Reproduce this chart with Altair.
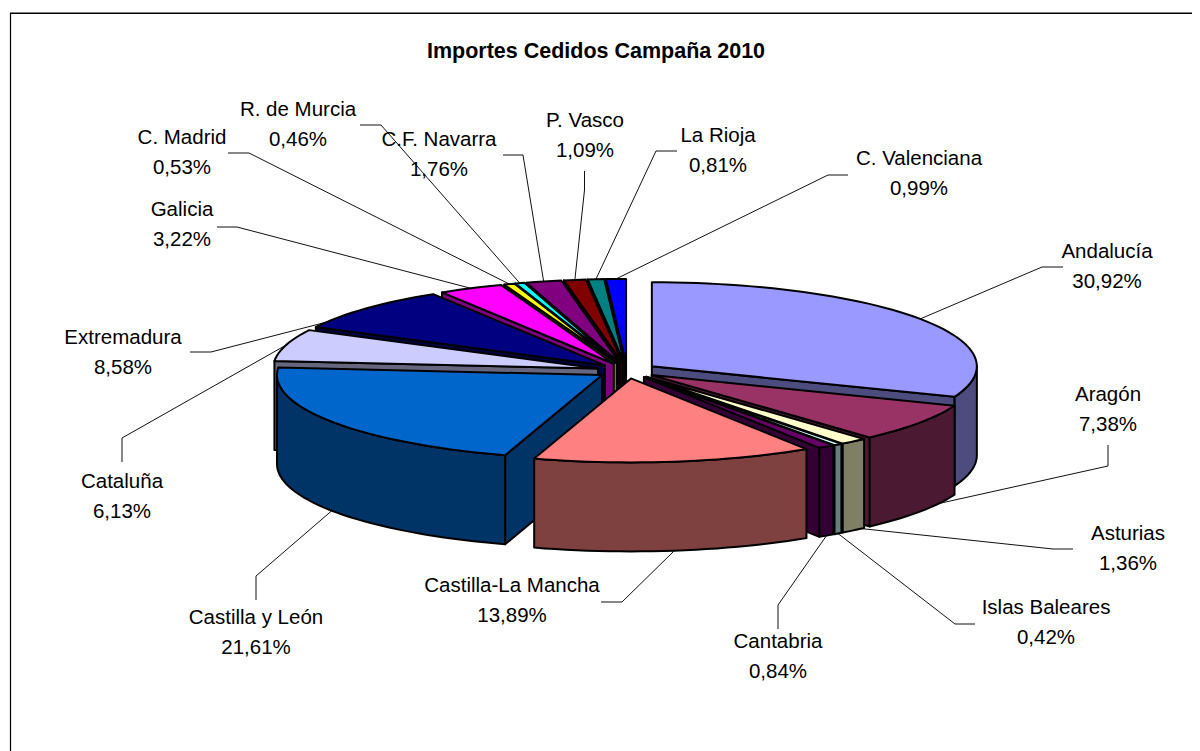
import math
import altair as alt
import pandas as pd

# ---- chart values ----
regions = ["Andalucía", "Aragón", "Asturias", "Islas Baleares", "Cantabria", "Castilla-La Mancha",
           "Castilla y León", "Cataluña", "Extremadura", "Galicia", "C. Madrid", "R. de Murcia",
           "C.F. Navarra", "P. Vasco", "La Rioja", "C. Valenciana"]
shares = [30.92, 7.38, 1.36, 0.42, 0.84, 13.89, 21.61, 6.13, 8.58, 3.22, 0.53, 0.46, 1.76, 1.09, 0.81, 0.99]
tops = ["#9999FF", "#993366", "#FFFFCC", "#CCFFFF", "#660066", "#FF8080", "#0066CC", "#CCCCFF",
        "#000080", "#FF00FF", "#FFFF00", "#00FFFF", "#800080", "#800000", "#008080", "#0000FF"]
sides = ["#4C4C7F", "#4C1933", "#7F7F66", "#667F7F", "#330033", "#7F4040", "#003366", "#66667F",
         "#000040", "#7F007F", "#7F7F00", "#007F7F", "#400040", "#400000", "#004040", "#00007F"]
title = "Importes Cedidos Campaña 2010"

# ---- layout of the oblique pie (page pixels) ----
CX, CY, A, B, H, EXPLODE = 627.0, 370.7, 325.0, 84.0, 89.0, 0.0926
TEXT_DY = 1.5
# label centre x, first-line y, second-line y, then the two leader elbow points
label_layout = {
    "Andalucía": (1107, 250, 280, (1063, 267), (1042, 267)),
    "Aragón": (1108, 393, 423, (1108, 445), (1108, 466)),
    "Asturias": (1128, 532, 562, (1073, 549), (1053, 549)),
    "Islas Baleares": (1046, 606, 636, (975, 624), (955, 624)),
    "Cantabria": (778, 640, 670, (778, 629), (778, 605)),
    "Castilla-La Mancha": (512, 584, 614, (601, 602), (622, 602)),
    "Castilla y León": (256, 616, 646, (256, 600), (256, 576)),
    "Cataluña": (122, 480, 510, (122, 462), (122, 438)),
    "Extremadura": (123, 336, 366, (190, 352), (211, 352)),
    "Galicia": (182, 208, 238, (217, 227), (237, 227)),
    "C. Madrid": (182, 136, 166, (228, 153), (249, 153)),
    "R. de Murcia": (298, 108, 138, (360, 125), (381, 125)),
    "C.F. Navarra": (439, 138, 168, (503, 155), (523, 155)),
    "P. Vasco": (585, 119, 149, (584.5, 171), (584.5, 190)),
    "La Rioja": (718, 134, 164, (677, 151), (656, 151)),
    "C. Valenciana": (919, 157, 187, (848, 175), (828, 175)),
}
anchor_angle = {"Aragón": 118.0, "Asturias": 138.5, "Extremadura": 301.0}

total = sum(shares)
polys, leaders, texts = [], [], []
slices = []
acc = 0.0
for i, v in enumerate(shares):
    t0 = acc / total * 360
    acc += v
    t1 = acc / total * 360
    mid = (t0 + t1) / 2
    ax = CX + EXPLODE * A * math.sin(math.radians(mid))
    ay = CY - EXPLODE * B * math.cos(math.radians(mid))
    slices.append(dict(i=i, t0=t0, t1=t1, mid=mid, ax=ax, ay=ay))


def rim(s, t, dy=0.0):
    r = math.radians(t)
    return (s["ax"] + A * math.sin(r), s["ay"] - B * math.cos(r) + dy)


def arc(s, a, b):
    n = max(2, int(abs(b - a) / 2) + 2)
    return [rim(s, a + (b - a) * k / (n - 1)) for k in range(n)]


pid = 0


def add_poly(points, color):
    global pid
    for k, (x, y) in enumerate(points):
        polys.append(dict(poly=pid, k=k, x=x, y=y, fill=color))
    pid += 1


for s in sorted(slices, key=lambda q: -B * math.cos(math.radians(q["mid"]))):
    i = s["i"]
    apex = (s["ax"], s["ay"])
    apex_low = (s["ax"], s["ay"] + H)
    # cut faces turned to the viewer
    if 180 < s["t0"] < 360:
        e = rim(s, s["t0"])
        add_poly([apex, e, (e[0], e[1] + H), apex_low], sides[i])
    if 0 < s["t1"] < 180:
        e = rim(s, s["t1"])
        add_poly([apex, e, (e[0], e[1] + H), apex_low], sides[i])
    # outer wall: the front half of the rim only
    lo, hi = max(s["t0"], 90.0), min(s["t1"], 270.0)
    if lo < hi:
        top_edge = arc(s, lo, hi)
        add_poly(top_edge + [(x, y + H) for x, y in reversed(top_edge)], sides[i])
    # top face
    add_poly([apex] + arc(s, s["t0"], s["t1"]), tops[i])

for s in slices:
    name = regions[s["i"]]
    cx, y1, y2, p1, p2 = label_layout[name]
    t = anchor_angle.get(name, s["mid"])
    end = rim(s, t, H if 90 < t < 270 else 0.0)
    for k, (x, y) in enumerate([p1, p2, end]):
        leaders.append(dict(name=name, k=k, x=x, y=y))
    texts.append(dict(x=cx, y=y1 + TEXT_DY, text=name))
    texts.append(dict(x=cx, y=y2 + TEXT_DY, text=f"{shares[s['i']]:.2f}%".replace(".", ",")))

X = alt.X("x:Q", scale=alt.Scale(domain=[8, 1192], nice=False, zero=False), axis=None)
Y = alt.Y("y:Q", scale=alt.Scale(domain=[751, 8], nice=False, zero=False), axis=None)

border = pd.DataFrame([
    dict(s="top", k=0, x=10, y=13.5), dict(s="top", k=1, x=1192, y=13.5),
    dict(s="left", k=0, x=10.5, y=13), dict(s="left", k=1, x=10.5, y=751),
])
border_shade = pd.DataFrame([dict(s="shade", k=0, x=10, y=12.5), dict(s="shade", k=1, x=1192, y=12.5)])
shade_layer = alt.Chart(border_shade).mark_line(color="#808080", strokeWidth=1).encode(
    x=X, y=Y, detail="s:N", order="k:Q")
border_layer = alt.Chart(border).mark_line(color="black", strokeWidth=1.2).encode(
    x=X, y=Y, detail="s:N", order="k:Q")
leader_layer = alt.Chart(pd.DataFrame(leaders)).mark_line(color="#111111", strokeWidth=1).encode(
    x=X, y=Y, detail="name:N", order="k:Q")
pie_layer = alt.Chart(pd.DataFrame(polys)).mark_line(
    interpolate="linear-closed", stroke="black", strokeWidth=2, strokeJoin="round"
).encode(
    x=X, y=Y, detail="poly:Q", order="k:Q",
    fill=alt.Fill("fill:N", scale=None),
)
text_layer = alt.Chart(pd.DataFrame(texts)).mark_text(
    font="Liberation Sans", fontSize=20.5, color="black", align="center", baseline="middle"
).encode(x=X, y=Y, text="text:N")
title_layer = alt.Chart(pd.DataFrame([dict(x=596, y=50 + TEXT_DY, text=title)])).mark_text(
    font="Liberation Sans", fontSize=21.5, fontWeight="bold", color="black", align="center", baseline="middle"
).encode(x=X, y=Y, text="text:N")

chart = alt.layer(shade_layer, border_layer, leader_layer, pie_layer, text_layer, title_layer).properties(
    width=1184, height=743, padding=0, autosize=alt.AutoSizeParams(type="none"), background="white"
).configure_view(stroke=None)

chart.save("out.html", embed_options={"renderer": "svg", "actions": False})
